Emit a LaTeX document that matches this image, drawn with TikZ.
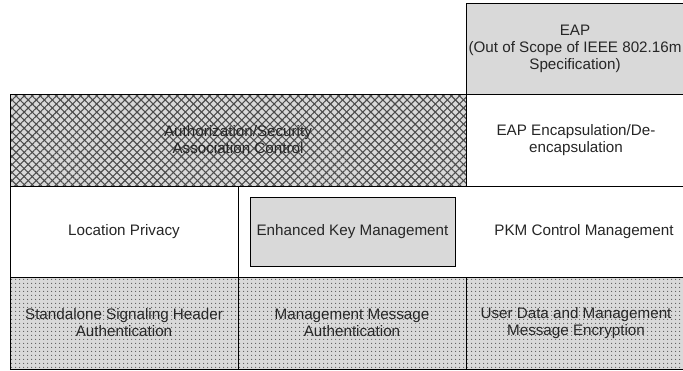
\documentclass[tikz,border=0pt]{standalone}
\usepackage{fontspec}
\setmainfont{Liberation Sans}
\usetikzlibrary{patterns.meta}
\definecolor{boxgray}{gray}{0.85}
\definecolor{hatchgray}{gray}{0.3}
\definecolor{dotgray}{gray}{0.35}
\tikzset{
  cell/.style={draw=black, line width=1pt, inner sep=0pt, align=center,
    font=\fontsize{15.2}{17}\selectfont, text=black!85},
  graycell/.style={cell, fill=boxgray},
  whitecell/.style={cell, fill=white},
  hatchcell/.style={cell, fill=boxgray,
    postaction={pattern={Lines[angle=45,distance=5.7pt,line width=1.1pt]}, pattern color=hatchgray},
    postaction={pattern={Lines[angle=-45,distance=5.7pt,line width=1.1pt]}, pattern color=hatchgray},
    postaction={draw=black, line width=1pt}},
  dotcell/.style={cell, fill=boxgray,
    postaction={pattern={Dots[distance=4pt,radius=0.7pt]}, pattern color=dotgray},
    postaction={draw=black, line width=1pt}},
  label/.style={inner sep=0pt, align=center, font=\fontsize{15.2}{17}\selectfont, text=black!85}
}
\begin{document}
\begin{tikzpicture}[x=1pt,y=-1pt]
\useasboundingbox (0,0) rectangle (683,370);
\clip (0,0) rectangle (683,370);
% row 1
\node[graycell, minimum width=220pt, minimum height=91pt] (eap) at (576,48.5) {};
\node[label] (eaptext) at (575,48.5) {EAP\\(Out of Scope of IEEE 802.16m\\Specification)};
% row 2
\node[hatchcell, minimum width=456pt, minimum height=92pt] (auth) at (238,140)
  {Authorization/Security\\Association Control};
\node[whitecell, minimum width=220pt, minimum height=92pt] (encap) at (576,140)
  {EAP Encapsulation/De-\\encapsulation};
% row 3
\node[whitecell, minimum width=228pt, minimum height=91pt] (loc) at (124,231.5)
  {Location Privacy};
\node[whitecell, minimum width=448pt, minimum height=91pt] (pkmcell) at (462,231.5) {};
\node[graycell, minimum width=205pt, minimum height=69pt] (ekm) at (352.5,231.5)
  {Enhanced Key Management};
\node[label] (pkm) at (584,231.5) {PKM Control Management};
% row 4
\node[dotcell, minimum width=228pt, minimum height=92pt] (sig) at (124,323)
  {Standalone Signaling Header\\Authentication};
\node[dotcell, minimum width=228pt, minimum height=92pt] (mma) at (352,323)
  {Management Message\\Authentication};
\node[dotcell, minimum width=220pt, minimum height=92pt] (ude) at (576,323)
  {User Data and Management\\Message Encryption};
\end{tikzpicture}
\end{document}
